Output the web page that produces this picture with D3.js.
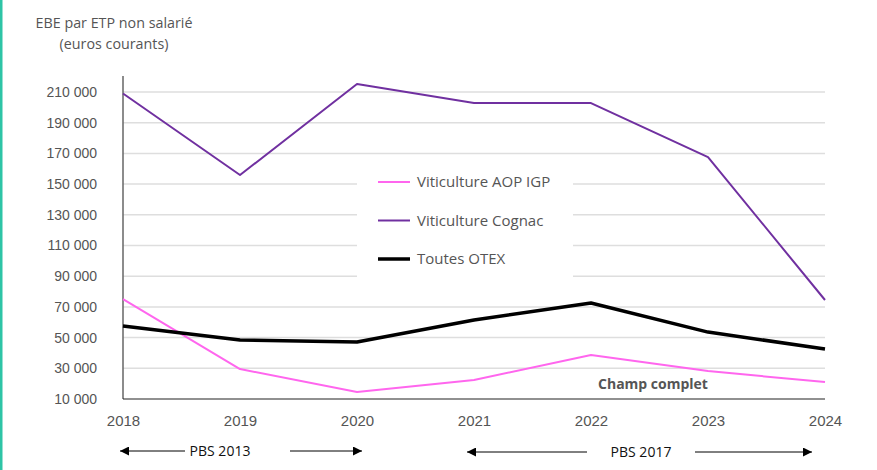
<!DOCTYPE html>
<html>
<head>
<meta charset="utf-8">
<script src="https://cdn.jsdelivr.net/npm/d3@7"></script>
<style>
  body { margin: 0; background: #fff; }
  svg { display: block; font-family: "Open Sans", "Noto Sans", sans-serif; }
  .grid line { stroke: #dedede; stroke-width: 1.5; }
  .tick text { fill: #555; }
</style>
</head>
<body>
<svg id="chart" width="877" height="470"></svg>
<script>
"use strict";

const years = [2018, 2019, 2020, 2021, 2022, 2023, 2024];
const yTicks = [10000, 30000, 50000, 70000, 90000, 110000, 130000, 150000, 170000, 190000, 210000];

const aopIgp = [75100, 29500, 14600, 22400, 38700, 28200, 21000];
const cognac = [209000, 155900, 215200, 202800, 202800, 167600, 74500];
const otex = [57500, 48400, 47100, 61500, 72500, 53600, 42600];

const series = [
  {label: "Viticulture AOP IGP", values: aopIgp, color: "#ff66ee", width: 2},
  {label: "Viticulture Cognac", values: cognac, color: "#7030a0", width: 2},
  {label: "Toutes OTEX", values: otex, color: "#000000", width: 3.5},
];

const svg = d3.select("#chart");

// teal bar on the left edge
svg.append("rect")
  .attr("x", 0).attr("y", 0)
  .attr("width", 2.5).attr("height", 470)
  .attr("fill", "#2ec4a6");

const plotLeft = 123, plotRight = 825, plotTop = 92, plotBottom = 399;

const x = d3.scaleLinear()
  .domain([2018, 2024])
  .range([plotLeft, plotRight]);

const y = d3.scaleLinear()
  .domain([10000, 210000])
  .range([plotBottom, plotTop]);

const fmt = d => d3.format(",")(d).replace(/,/g, " ");

// Gridlines
svg.append("g")
  .attr("class", "grid")
  .selectAll("line")
  .data(yTicks.slice(1))
  .enter()
  .append("line")
  .attr("x1", plotLeft).attr("x2", plotRight)
  .attr("y1", d => y(d)).attr("y2", d => y(d));

// Y axis
const yAxis = svg.append("g")
  .attr("transform", `translate(${plotLeft},0)`)
  .call(d3.axisLeft(y).tickValues(yTicks).tickFormat(fmt).tickSize(0).tickPadding(26));
yAxis.select(".domain").remove();
yAxis.selectAll("text").style("font-size", "14px");

svg.append("line")
  .attr("x1", plotLeft).attr("x2", plotLeft)
  .attr("y1", 76).attr("y2", plotBottom)
  .attr("stroke", "#666").attr("stroke-width", 1.5);

// X axis
const xAxis = svg.append("g")
  .attr("transform", `translate(0,${plotBottom})`)
  .call(d3.axisBottom(x).tickValues(years).tickFormat(d3.format("d")).tickSize(0).tickPadding(16));
xAxis.select(".domain").remove();
xAxis.selectAll("text").style("font-size", "15px");

svg.append("line")
  .attr("x1", plotLeft).attr("x2", plotRight)
  .attr("y1", plotBottom).attr("y2", plotBottom)
  .attr("stroke", "#222").attr("stroke-width", 1.2);

// Y axis title
svg.append("text")
  .attr("x", 114).attr("y", 28)
  .attr("text-anchor", "middle")
  .attr("fill", "#555").style("font-size", "14.3px")
  .text("EBE par ETP non salarié");
svg.append("text")
  .attr("x", 114).attr("y", 49)
  .attr("text-anchor", "middle")
  .attr("fill", "#555").style("font-size", "14.3px")
  .text("(euros courants)");

// Lines
series.forEach(s => {
  svg.append("path")
    .datum(s.values)
    .attr("fill", "none")
    .attr("stroke", s.color)
    .attr("stroke-width", s.width)
    .attr("stroke-linejoin", "round")
    .attr("d", d3.line()
      .x((v, i) => x(years[i]))
      .y(v => y(v)));
});

// Legend
svg.append("rect")
  .attr("x", 357).attr("y", 165)
  .attr("width", 216).attr("height", 115)
  .attr("fill", "#fff");

const legend = svg.append("g");
series.forEach((s, i) => {
  const ly = 182 + i * 38.5;
  legend.append("line")
    .attr("x1", 378).attr("x2", 410)
    .attr("y1", ly).attr("y2", ly)
    .attr("stroke", s.color)
    .attr("stroke-width", s.width);
  legend.append("text")
    .attr("x", 417).attr("y", ly + 5)
    .attr("fill", "#555").style("font-size", "15px")
    .text(s.label);
});

// Champ complet
svg.append("text")
  .attr("x", 653).attr("y", 389)
  .attr("text-anchor", "middle")
  .attr("fill", "#555")
  .style("font-size", "14px").style("font-weight", "bold")
  .text("Champ complet");

// PBS annotations
const defs = svg.append("defs");
defs.append("marker")
  .attr("id", "arrow")
  .attr("viewBox", "0 0 10 10")
  .attr("refX", 10).attr("refY", 5)
  .attr("markerWidth", 9).attr("markerHeight", 9)
  .attr("markerUnits", "userSpaceOnUse")
  .attr("orient", "auto")
  .append("path")
  .attr("d", "M0,0L10,5L0,10Z")
  .attr("fill", "#000");

const pbs = [
  {label: "PBS 2013", tx: 220, ly: 451, arrows: [[185, 120], [290, 362]]},
  {label: "PBS 2017", tx: 641, ly: 452, arrows: [[587, 467], [695, 812]]},
];
pbs.forEach(p => {
  svg.append("text")
    .attr("x", p.tx).attr("y", p.ly + 5)
    .attr("text-anchor", "middle")
    .attr("fill", "#111").style("font-size", "14px")
    .text(p.label);
  p.arrows.forEach(a => {
    svg.append("line")
      .attr("x1", a[0]).attr("x2", a[1])
      .attr("y1", p.ly).attr("y2", p.ly)
      .attr("stroke", "#000").attr("stroke-width", 1)
      .attr("marker-end", "url(#arrow)");
  });
});
</script>
</body>
</html>
